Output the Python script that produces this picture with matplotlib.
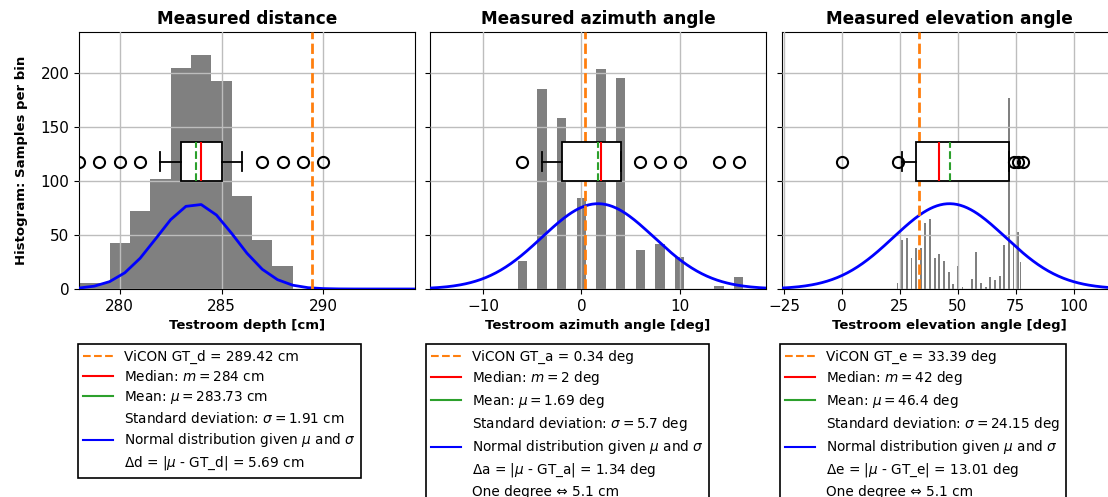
import numpy as np
import matplotlib.pyplot as plt
from matplotlib.lines import Line2D

# --- distance panel (1 cm bins) ---
dist_bins = [278, 279, 280, 281, 282, 283, 284, 285, 286, 287, 288]
dist_counts = [6, 6, 43, 72, 102, 205, 217, 193, 86, 45, 21]
dist_box = dict(q1=283, med=284, q3=285, whislo=282, whishi=286, mean=283.73,
                fliers=[278, 279, 280, 281, 287, 288, 289, 290])
dist_gt, dist_mu, dist_sigma = 289.42, 283.73, 1.91

# --- azimuth panel ---
az_bins = [-6, -4, -2, 0, 2, 4, 6, 8, 10, 14, 16]
az_counts = [26, 185, 158, 84, 204, 195, 36, 42, 30, 3, 11]
az_box = dict(q1=-2, med=2, q3=4, whislo=-4, whishi=4, mean=1.69,
              fliers=[-6, 6, 8, 10, 14, 16])
az_gt, az_mu, az_sigma = 0.34, 1.69, 5.7

# --- elevation panel ---
el_bins = [0, 24, 26, 28, 30, 32, 34, 36, 38, 40, 42, 44, 46, 48, 50, 52,
           56, 58, 60, 62, 64, 66, 68, 70, 72, 74, 76, 77]
el_counts = [1, 6, 45, 47, 29, 38, 38, 61, 65, 29, 32, 26, 16, 5, 21, 2,
             9, 34, 6, 2, 11, 8, 12, 41, 177, 42, 53, 25]
el_box = dict(q1=32, med=42, q3=72, whislo=26, whishi=72, mean=46.4,
              fliers=[0, 24, 74, 76, 78])
el_gt, el_mu, el_sigma = 33.39, 46.4, 24.15

curve_peak = 79  # height of the drawn normal curves

fig = plt.figure(figsize=(11.08, 4.97), dpi=100)
W, H = 1108, 497
ax_w, ax_b, ax_t = 336, 289, 32
lefts = [79, 430, 781.5]
axes = []
for i, l in enumerate(lefts):
    ax = fig.add_axes([l / W, 1 - ax_b / H, ax_w / W, (ax_b - ax_t) / H],
                      sharey=axes[0] if axes else None)
    axes.append(ax)

panels = [
    dict(title="Measured distance", xlabel="Testroom depth [cm]",
         bins=dist_bins, counts=dist_counts, width=1.0, box=dist_box,
         gt=dist_gt, mu=dist_mu, sigma=dist_sigma, xlim=(278.0, 294.5),
         npts=23, ticks=[280, 285, 290]),
    dict(title="Measured azimuth angle", xlabel="Testroom azimuth angle [deg]",
         bins=az_bins, counts=az_counts, width=0.95, box=az_box,
         gt=az_gt, mu=az_mu, sigma=az_sigma, xlim=(-15.41, 18.79),
         npts=200, ticks=[-10, 0, 10]),
    dict(title="Measured elevation angle", xlabel="Testroom elevation angle [deg]",
         bins=el_bins, counts=el_counts, width=0.8, box=el_box,
         gt=el_gt, mu=el_mu, sigma=el_sigma, xlim=(-26.05, 118.85),
         npts=200, ticks=[-25, 0, 25, 50, 75, 100]),
]

for ax, p in zip(axes, panels):
    ax.bar(p["bins"], p["counts"], width=p["width"], color="gray", zorder=1)
    x = np.linspace(p["xlim"][0], p["xlim"][1], p["npts"])
    y = curve_peak * np.exp(-0.5 * ((x - p["mu"]) / p["sigma"]) ** 2)
    ax.plot(x, y, color="blue", lw=2, zorder=3)
    ax.axvline(p["gt"], color="#ff7f0e", ls="--", lw=2, zorder=3.5)
    ax.bxp([p["box"]], positions=[118], widths=36, orientation="horizontal",
           patch_artist=True, showmeans=True, meanline=True, manage_ticks=False,
           boxprops=dict(facecolor="white", edgecolor="black", lw=1.3),
           whiskerprops=dict(color="black", lw=1.3),
           capprops=dict(color="black", lw=1.3),
           medianprops=dict(color="red", lw=1.5),
           meanprops=dict(color="#2ca02c", ls="--", lw=1.5),
           flierprops=dict(marker="o", markersize=8, markerfacecolor="none",
                           markeredgecolor="black", markeredgewidth=1.5),
           zorder=4)
    ax.set_xlim(*p["xlim"])
    ax.set_xticks(p["ticks"])
    ax.grid(True, color="#bdbdbd", lw=1.0)
    ax.set_axisbelow(False)
    ax.tick_params(labelsize=11)
    ax.set_title(p["title"], fontsize=12.2, fontweight="bold")
    ax.set_xlabel(p["xlabel"], fontsize=9.5, fontweight="bold")

axes[0].set_ylim(0, 238)
axes[0].set_yticks([0, 50, 100, 150, 200])
axes[0].set_ylabel("Histogram: Samples per bin", fontsize=9.5, fontweight="bold",
                   labelpad=9)
for ax in axes[1:]:
    ax.tick_params(labelleft=False)

# legends below each panel
legend_texts = [
    ["ViCON GT_d = 289.42 cm", "Median: $m = 284$ cm", r"Mean: $\mu = 283.73$ cm",
     r"Standard deviation: $\sigma = 1.91$ cm",
     r"Normal distribution given $\mu$ and $\sigma$",
     r"Δd = |$\mu$ - GT_d| = 5.69 cm"],
    ["ViCON GT_a = 0.34 deg", "Median: $m = 2$ deg", r"Mean: $\mu = 1.69$ deg",
     r"Standard deviation: $\sigma = 5.7$ deg",
     r"Normal distribution given $\mu$ and $\sigma$",
     r"Δa = |$\mu$ - GT_a| = 1.34 deg", "One degree ⇔ 5.1 cm"],
    ["ViCON GT_e = 33.39 deg", "Median: $m = 42$ deg", r"Mean: $\mu = 46.4$ deg",
     r"Standard deviation: $\sigma = 24.15$ deg",
     r"Normal distribution given $\mu$ and $\sigma$",
     r"Δe = |$\mu$ - GT_e| = 13.01 deg", "One degree ⇔ 5.1 cm"],
]
legend_lefts = [78, 426, 780]
for ax, texts, lx in zip(axes, legend_texts, legend_lefts):
    handles = [
        Line2D([], [], color="#ff7f0e", ls="--", lw=1.5),
        Line2D([], [], color="red", lw=1.5),
        Line2D([], [], color="#2ca02c", lw=1.5),
        Line2D([], [], color="none"),
        Line2D([], [], color="blue", lw=1.5),
    ] + [Line2D([], [], color="none") for _ in texts[5:]]
    leg = fig.legend(handles, texts, loc="upper left",
                     bbox_to_anchor=(lx / W, 1 - 344 / H),
                     bbox_transform=fig.transFigure, borderaxespad=0,
                     fontsize=9.8, fancybox=False, framealpha=1,
                     edgecolor="black", handlelength=2.2, labelspacing=0.38)
    leg.get_frame().set_linewidth(1.2)

fig.savefig("out.png", dpi=100)
